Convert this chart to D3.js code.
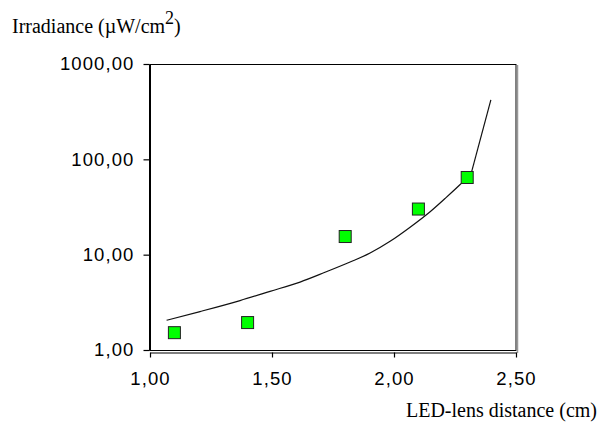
<!DOCTYPE html>
<html><head><meta charset="utf-8">
<script src="https://cdn.jsdelivr.net/npm/d3@7"></script>
<style>body{margin:0;background:#fff}svg{display:block}</style>
</head><body>
<svg id="c" width="601" height="427"></svg>
<script>
const pointX = [1.1, 1.4, 1.8, 2.1, 2.3];
const pointY = [1.52, 1.94, 15.5, 30.1, 64.5];
const curveX = [1.068, 1.205, 1.369, 1.492, 1.615, 1.717, 1.820, 1.902, 1.984, 2.066, 2.148, 2.209, 2.270, 2.295, 2.318];
const curveY = [2.05, 2.53, 3.30, 4.12, 5.16, 6.53, 8.37, 10.4, 13.8, 19.4, 28.2, 38.8, 54.1, 62.5, 74];
const tailX = [2.318, 2.397];
const tailY = [74, 420];
const xTicks = [1.0, 1.5, 2.0, 2.5];
const yTicks = [1, 10, 100, 1000];
const fmt = v => v.toFixed(2).replace('.', ',');

const svg = d3.select('#c');
const L = 150, R = 516, T = 64, B = 350;
const x = d3.scaleLinear().domain([1, 2.5]).range([L, R]);
const y = d3.scaleLog().domain([1, 1000]).range([B, T]);

// plot frame
svg.append('rect').attr('x', L).attr('y', T + 0.5).attr('width', R - L).attr('height', B - T)
  .attr('fill', 'none').attr('stroke', '#000').attr('stroke-width', 1);
svg.append('line').attr('x1', R + 1.5).attr('x2', R + 1.5).attr('y1', T + 1).attr('y2', B + 3)
  .attr('stroke', '#999').attr('stroke-width', 1.5);

// x axis
const xa = svg.append('g').attr('transform', `translate(0,${B + 2.5})`)
  .call(d3.axisBottom(x).tickValues(xTicks).tickFormat(fmt).tickSizeOuter(0).tickSizeInner(5).tickPadding(14));
// y axis
const ya = svg.append('g').attr('transform', `translate(${L - 0.5},0)`)
  .call(d3.axisLeft(y).tickValues(yTicks).tickFormat(fmt).tickSizeOuter(0).tickSizeInner(6).tickPadding(9));
[xa, ya].forEach(g => {
  g.select('.domain').attr('stroke', '#000').attr('stroke-width', 1.5);
  g.selectAll('.tick line').attr('stroke', '#000').attr('stroke-width', 1.2);
  g.selectAll('.tick text').attr('fill', '#000')
    .style('font-family', '"Liberation Sans", Arial, sans-serif')
    .style('font-size', '18.5px').style('letter-spacing', '1.1px');
});
xa.select('.domain').attr('stroke-width', 1.2);
ya.select('.domain').attr('stroke-width', 2);

// fitted curve
svg.append('path').datum(curveX.map((v, i) => [v, curveY[i]]))
  .attr('d', d3.line().x(d => x(d[0])).y(d => y(d[1])).curve(d3.curveMonotoneX))
  .attr('fill', 'none').attr('stroke', '#111').attr('stroke-width', 1.2);
svg.append('path').datum(tailX.map((v, i) => [v, tailY[i]]))
  .attr('d', d3.line().x(d => x(d[0])).y(d => y(d[1])))
  .attr('fill', 'none').attr('stroke', '#111').attr('stroke-width', 1.2);

// markers
const s = 12;
svg.append('g').selectAll('rect').data(pointX.map((v, i) => [v, pointY[i]])).join('rect')
  .attr('x', d => x(d[0]) - s / 2).attr('y', d => y(d[1]) - s / 2)
  .attr('width', s).attr('height', s)
  .attr('fill', '#00ff00').attr('stroke', '#222').attr('stroke-width', 1);

// titles
const serif = '"Liberation Serif", "Times New Roman", serif';
const t = svg.append('text').attr('x', 12).attr('y', 33).attr('font-family', serif).attr('font-size', 20).attr('fill', '#000');
t.append('tspan').text('Irradiance (\u00b5W/cm');
t.append('tspan').attr('dy', -9).attr('font-size', 18).text('2');
t.append('tspan').attr('dy', 9).text(')');
svg.append('text').attr('x', 597).attr('y', 417).attr('text-anchor', 'end')
  .attr('font-family', serif).attr('font-size', 20).attr('fill', '#000').text('LED-lens distance (cm)');
</script>
</body></html>
